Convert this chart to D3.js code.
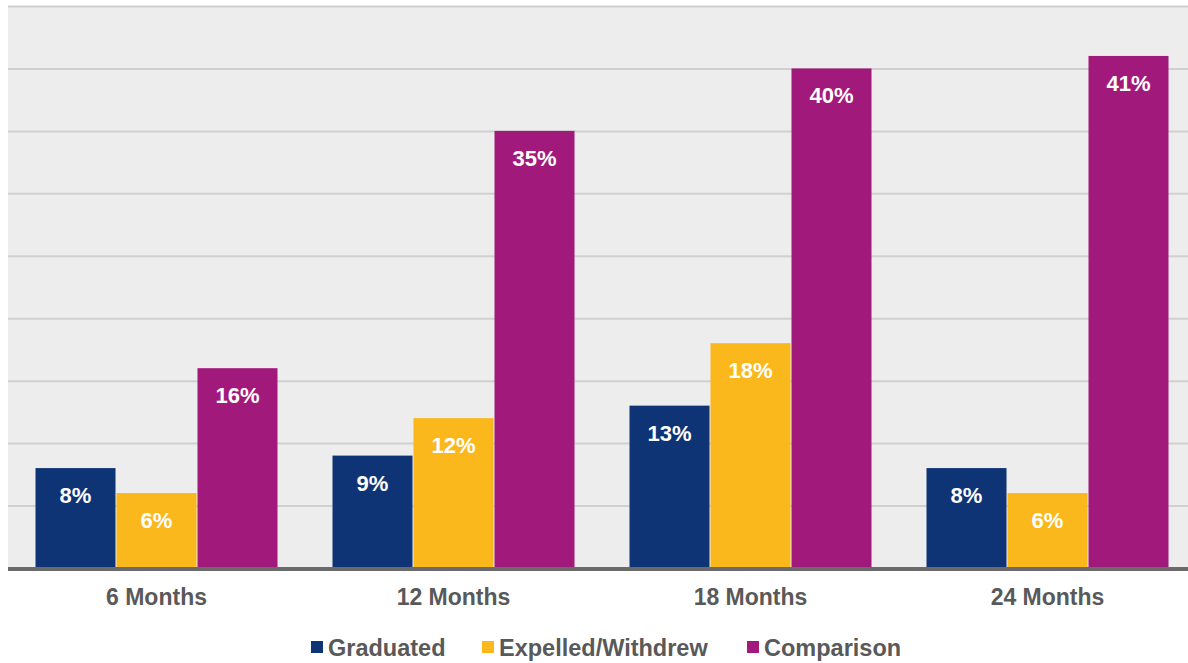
<!DOCTYPE html>
<html>
<head>
<meta charset="utf-8">
<script src="https://cdn.jsdelivr.net/npm/d3@7"></script>
<style>
  body { margin: 0; background: #fff; }
  text { font-family: "Liberation Sans", Arial, sans-serif; font-weight: bold; }
</style>
</head>
<body>
<svg id="chart" width="1188" height="663"></svg>
<script>
var categories = ["6 Months", "12 Months", "18 Months", "24 Months"];
var seriesNames = ["Graduated", "Expelled/Withdrew", "Comparison"];
var graduated = [8, 9, 13, 8];
var expelled = [6, 12, 18, 6];
var comparison = [16, 35, 40, 41];
var yTicks = [0, 5, 10, 15, 20, 25, 30, 35, 40, 45];

var colors = ["#0f3476", "#fbb81c", "#a2197c"];
var seriesValues = [graduated, expelled, comparison];

var svg = d3.select("#chart");
var plotLeft = 8, plotRight = 1196, plotTop = 6, plotBottom = 568, width = 1188;

var x0 = d3.scaleBand().domain(categories).range([plotLeft, plotRight]).padding(0);
var x1 = d3.scaleBand().domain(seriesNames).range([27, x0.bandwidth() - 27]).padding(0);
var y = d3.scaleLinear().domain([0, 45]).range([plotBottom, plotTop]);

// plot background
svg.append("rect")
    .attr("x", plotLeft).attr("y", plotTop)
    .attr("width", width - plotLeft).attr("height", plotBottom - plotTop)
    .attr("fill", "#ededed");

// grid lines
svg.append("g")
    .attr("class", "y axis")
    .attr("transform", "translate(" + plotLeft + ",0)")
    .call(d3.axisLeft(y).tickValues(yTicks).tickSize(-(width - plotLeft)).tickFormat(""))
    .call(function (g) {
        g.select(".domain").remove();
        g.selectAll("line").attr("stroke", "#d0d0d0").attr("stroke-width", 2);
    });

var rows = [];
categories.forEach(function (c, i) {
    seriesNames.forEach(function (s, j) {
        rows.push({cat: c, series: s, value: seriesValues[j][i], color: colors[j]});
    });
});

var bars = svg.append("g").selectAll("g")
    .data(rows)
    .enter().append("g")
    .attr("transform", function (d) { return "translate(" + (x0(d.cat) + x1(d.series)) + ",0)"; });

bars.append("rect")
    .attr("x", 0.5)
    .attr("y", function (d) { return y(d.value); })
    .attr("width", x1.bandwidth() - 1)
    .attr("height", function (d) { return y(0) - y(d.value); })
    .attr("fill", function (d) { return d.color; });

bars.append("text")
    .attr("x", x1.bandwidth() / 2)
    .attr("y", function (d) { return y(d.value) + 35; })
    .attr("text-anchor", "middle")
    .attr("fill", "#fff")
    .style("font-size", "22px")
    .text(function (d) { return d.value + "%"; });

// baseline
svg.append("line")
    .attr("x1", plotLeft).attr("x2", width)
    .attr("y1", y(0) + 1).attr("y2", y(0) + 1)
    .attr("stroke", "#6b6b6b").attr("stroke-width", 4);

// category labels
svg.append("g")
    .attr("transform", "translate(0," + (y(0) + 3) + ")")
    .call(d3.axisBottom(x0).tickSize(0).tickPadding(18))
    .call(function (g) {
        g.select(".domain").remove();
        g.selectAll("text")
            .attr("fill", "#595959")
            .style("font-size", "23px")
            .style("font-family", "'Liberation Sans', Arial, sans-serif")
            .style("font-weight", "bold");
    });

// legend
var legendX = [311, 482, 747];
var legend = svg.append("g").selectAll("g")
    .data(seriesNames)
    .enter().append("g")
    .attr("transform", function (d, i) { return "translate(" + legendX[i] + ",647)"; });

legend.append("rect")
    .attr("x", 0).attr("y", -6)
    .attr("width", 12).attr("height", 12)
    .attr("fill", function (d, i) { return colors[i]; });

legend.append("text")
    .attr("x", 17).attr("y", 8.5)
    .attr("fill", "#595959")
    .style("font-size", "23.5px")
    .text(function (d) { return d; });
</script>
</body>
</html>
